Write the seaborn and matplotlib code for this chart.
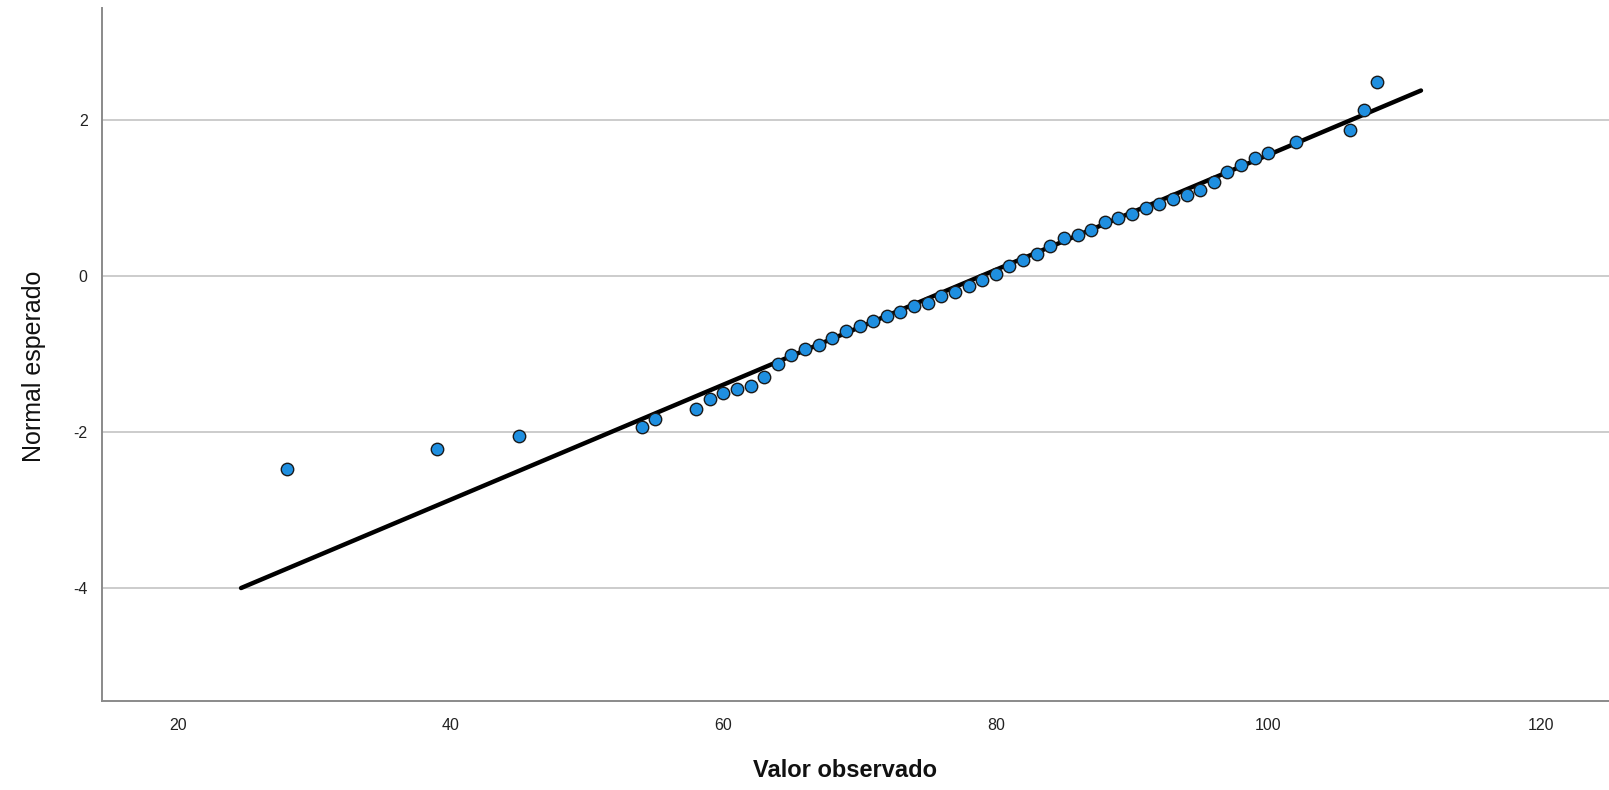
import matplotlib
matplotlib.use("Agg")
import matplotlib.pyplot as plt
import numpy as np
import pandas as pd
import seaborn as sns

# Observed values and their expected normal scores
observed = [28, 39, 45, 54, 55, 58, 59, 60, 61, 62, 63, 64, 65, 66, 67, 68, 69, 70,
            71, 72, 73, 74, 75, 76, 77, 78, 79, 80, 81, 82, 83, 84, 85, 86, 87, 88,
            89, 90, 91, 92, 93, 94, 95, 96, 97, 98, 99, 100, 102, 106, 107, 108]
expected = [-2.47, -2.22, -2.05, -1.93, -1.83, -1.71, -1.58, -1.50, -1.45, -1.41,
            -1.30, -1.13, -1.01, -0.93, -0.88, -0.79, -0.70, -0.64, -0.58, -0.51,
            -0.46, -0.39, -0.34, -0.26, -0.20, -0.13, -0.05, 0.03, 0.13, 0.21, 0.28,
            0.39, 0.49, 0.53, 0.59, 0.70, 0.75, 0.80, 0.87, 0.92, 0.99, 1.04, 1.11,
            1.21, 1.34, 1.43, 1.51, 1.58, 1.72, 1.88, 2.13, 2.49]

# Reference normal line (mean, standard deviation) and its x extent
line_mean = 78.9
line_sd = 13.57
line_x = [24.6, 111.2]

x_ticks = [20, 40, 60, 80, 100, 120]
y_ticks = [-4, -2, 0, 2]

pts = pd.DataFrame({"obs": observed, "exp": expected})
ref = pd.DataFrame({"x": line_x})
ref["y"] = (ref["x"] - line_mean) / line_sd

sns.set_theme(style="white")
narrow = ["Liberation Sans Narrow", "Liberation Sans", "DejaVu Sans"]
plt.rcParams["font.family"] = ["Liberation Sans", "DejaVu Sans"]
plt.rcParams["axes.unicode_minus"] = False

fig = plt.figure(figsize=(16.09, 7.90), dpi=100)
ax = fig.add_axes([0.0631, 0.1127, 0.9369, 0.8773])

ax.set_xlim(14.36, 125.0)
ax.set_ylim(-5.45, 3.44)
ax.set_yticks(y_ticks)
ax.set_xticks(x_ticks)
ax.yaxis.grid(True, color="#c8c8c8", linewidth=1.3)
ax.xaxis.grid(False)
ax.set_axisbelow(True)

sns.lineplot(data=ref, x="x", y="y", ax=ax, color="black", linewidth=3.2, zorder=2)
sns.scatterplot(data=pts, x="obs", y="exp", ax=ax, s=80, color="#1f8fe0",
                edgecolor="#1a1a1a", linewidth=1.0, zorder=3)

for side in ("top", "right"):
    ax.spines[side].set_visible(False)
for side in ("left", "bottom"):
    ax.spines[side].set_color("#8a8a8a")
    ax.spines[side].set_linewidth(1.4)

ax.tick_params(axis="both", length=0, labelsize=11.5, colors="#222222")
ax.tick_params(axis="y", pad=10)
ax.tick_params(axis="x", pad=12)

ax.set_xlabel("Valor observado", fontsize=17, fontweight="bold", color="#111111")
ax.set_ylabel("Normal esperado", fontsize=18, family=narrow, color="#111111")
ax.xaxis.set_label_coords(0.493, -0.084)
ax.yaxis.set_label_coords(-0.037, 0.483)

fig.savefig("out.png", dpi=100, facecolor="white")
